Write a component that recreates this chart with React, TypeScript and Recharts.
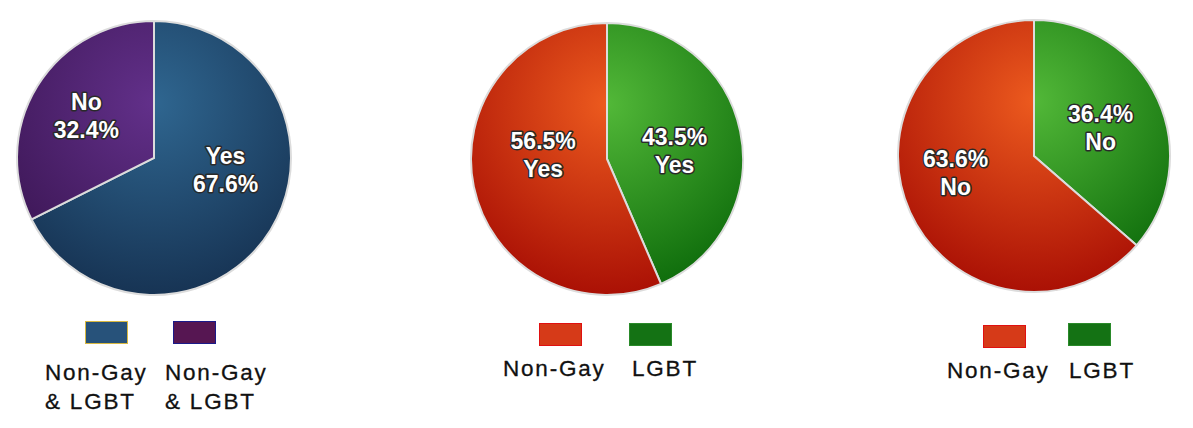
import React from "react";
import { PieChart, Pie, Cell } from "recharts";

// ---- data ----
const chart1Names = ["Yes", "No"];
const chart1Values = [67.6, 32.4];
const chart1Legend = ["Non-Gay\n& LGBT", "Non-Gay\n& LGBT"];

const chart2Names = ["LGBT", "Non-Gay"];
const chart2Values = [43.5, 56.5];
const chart2Answer = "Yes";

const chart3Names = ["LGBT", "Non-Gay"];
const chart3Values = [36.4, 63.6];
const chart3Answer = "No";

const legend23 = ["Non-Gay", "LGBT"];

type Grad = { inner: string; outer: string };
const BLUE: Grad = { inner: "#2f6690", outer: "#163252" };
const PURPLE: Grad = { inner: "#62308a", outer: "#3a1552" };
const RED: Grad = { inner: "#ec5a1e", outer: "#a80e04" };
const GREEN: Grad = { inner: "#52b838", outer: "#0c6a0a" };

const FONT = "'Liberation Sans', Arial, Helvetica, sans-serif";

type Slice = { name: string; value: number; lines: string[] };

const SIZE = 300;

function PieBlock(props: {
  id: string;
  left: number;
  top: number;
  data: Slice[];
  grads: Grad[];
  radius: number;
  labelShift: { angle: number; r: number }[];
}) {
  const { id, left, top, data, grads, radius, labelShift } = props;
  const c = SIZE / 2;
  const renderLabel = (p: any) => {
    const i = p.index;
    const shift = labelShift[i] || { angle: 0, r: 0.55 };
    const ang = ((p.midAngle + shift.angle) * Math.PI) / 180;
    const rr = radius * shift.r;
    const x = p.cx + rr * Math.cos(ang);
    const y = p.cy - rr * Math.sin(ang);
    const lines: string[] = data[i].lines;
    const lh = 28;
    const y0 = y - ((lines.length - 1) * lh) / 2;
    return (
      <text
        key={`lbl-${i}`}
        x={x}
        textAnchor="middle"
        dominantBaseline="central"
        fontFamily={FONT}
        fontWeight="bold"
        fontSize={23}
        fill="#ffffff"
        stroke="#2a2a2a"
        strokeWidth={3}
        strokeLinejoin="round"
        style={{ paintOrder: "stroke" }}
      >
        {lines.map((t, k) => (
          <tspan key={k} x={x} y={y0 + k * lh} dominantBaseline="central">
            {t}
          </tspan>
        ))}
      </text>
    );
  };
  return (
    <div style={{ position: "absolute", left, top, width: SIZE, height: SIZE }}>
      <PieChart width={SIZE} height={SIZE} margin={{ top: 0, right: 0, bottom: 0, left: 0 }}>
        <defs>
          {grads.map((g, i) => (
            <radialGradient
              key={i}
              id={`${id}-g${i}`}
              gradientUnits="userSpaceOnUse"
              cx={c}
              cy={c - 55}
              r={radius * 1.45}
              fx={c}
              fy={c - 55}
            >
              <stop offset="0%" stopColor={g.inner} />
              <stop offset="100%" stopColor={g.outer} />
            </radialGradient>
          ))}
        </defs>
        <Pie
          data={data}
          dataKey="value"
          nameKey="name"
          cx={c}
          cy={c}
          outerRadius={radius}
          innerRadius={0}
          startAngle={90}
          endAngle={-270}
          stroke="#dcdcdc"
          strokeWidth={2}
          isAnimationActive={false}
          labelLine={false}
          label={renderLabel}
        >
          {data.map((_, i) => (
            <Cell key={i} fill={`url(#${id}-g${i})`} />
          ))}
        </Pie>
      </PieChart>
    </div>
  );
}

function Swatch(props: { left: number; top: number; color: string; border: string }) {
  return (
    <div
      style={{
        position: "absolute",
        left: props.left,
        top: props.top,
        width: 43,
        height: 23,
        background: props.color,
        border: `1px solid ${props.border}`,
        boxSizing: "border-box",
      }}
    />
  );
}

function LegendText(props: { left: number; top: number; text: string }) {
  return (
    <div
      style={{
        position: "absolute",
        left: props.left,
        top: props.top,
        fontFamily: FONT,
        fontSize: 22.5,
        letterSpacing: 1.8,
        lineHeight: "29px",
        color: "#111",
        whiteSpace: "pre",
        WebkitTextStroke: "0.3px #111",
      }}
    >
      {props.text}
    </div>
  );
}

export default function App() {
  const d1: Slice[] = chart1Names.map((n, i) => ({
    name: n,
    value: chart1Values[i],
    lines: [n, `${chart1Values[i]}%`],
  }));
  const d2: Slice[] = chart2Names.map((n, i) => ({
    name: n,
    value: chart2Values[i],
    lines: [`${chart2Values[i]}%`, chart2Answer],
  }));
  const d3: Slice[] = chart3Names.map((n, i) => ({
    name: n,
    value: chart3Values[i],
    lines: [`${chart3Values[i]}%`, chart3Answer],
  }));

  return (
    <div
      style={{
        position: "absolute",
        left: 0,
        top: 0,
        width: 1193,
        height: 428,
        background: "#ffffff",
        overflow: "hidden",
      }}
    >
      <PieBlock
        id="p1"
        left={154 - 150}
        top={158 - 150}
        data={d1}
        grads={[BLUE, PURPLE]}
        radius={137}
        labelShift={[
          { angle: 22, r: 0.53 },
          { angle: 0, r: 0.58 },
        ]}
      />
      <PieBlock
        id="p2"
        left={607 - 150}
        top={159 - 150}
        data={d2}
        grads={[GREEN, RED]}
        radius={136}
        labelShift={[
          { angle: -5, r: 0.5 },
          { angle: -15, r: 0.47 },
        ]}
      />
      <PieBlock
        id="p3"
        left={1034 - 150}
        top={156 - 150}
        data={d3}
        grads={[GREEN, RED]}
        radius={136}
        labelShift={[
          { angle: -2, r: 0.53 },
          { angle: -12, r: 0.59 },
        ]}
      />

      {/* legends */}
      <Swatch left={85} top={321} color="#27527a" border="#d8b840" />
      <Swatch left={173} top={321} color="#561652" border="#1a1a8a" />
      <LegendText left={45} top={358} text={chart1Legend[0]} />
      <LegendText left={165} top={358} text={chart1Legend[1]} />

      <Swatch left={539} top={323} color="#d63a18" border="#e01010" />
      <Swatch left={629} top={323} color="#147214" border="#2a8a2a" />
      <LegendText left={503} top={354} text={legend23[0]} />
      <LegendText left={632} top={354} text={legend23[1]} />

      <Swatch left={983} top={325} color="#d63a18" border="#e01010" />
      <Swatch left={1068} top={323} color="#147214" border="#2a8a2a" />
      <LegendText left={947} top={356} text={legend23[0]} />
      <LegendText left={1069} top={356} text={legend23[1]} />
    </div>
  );
}
